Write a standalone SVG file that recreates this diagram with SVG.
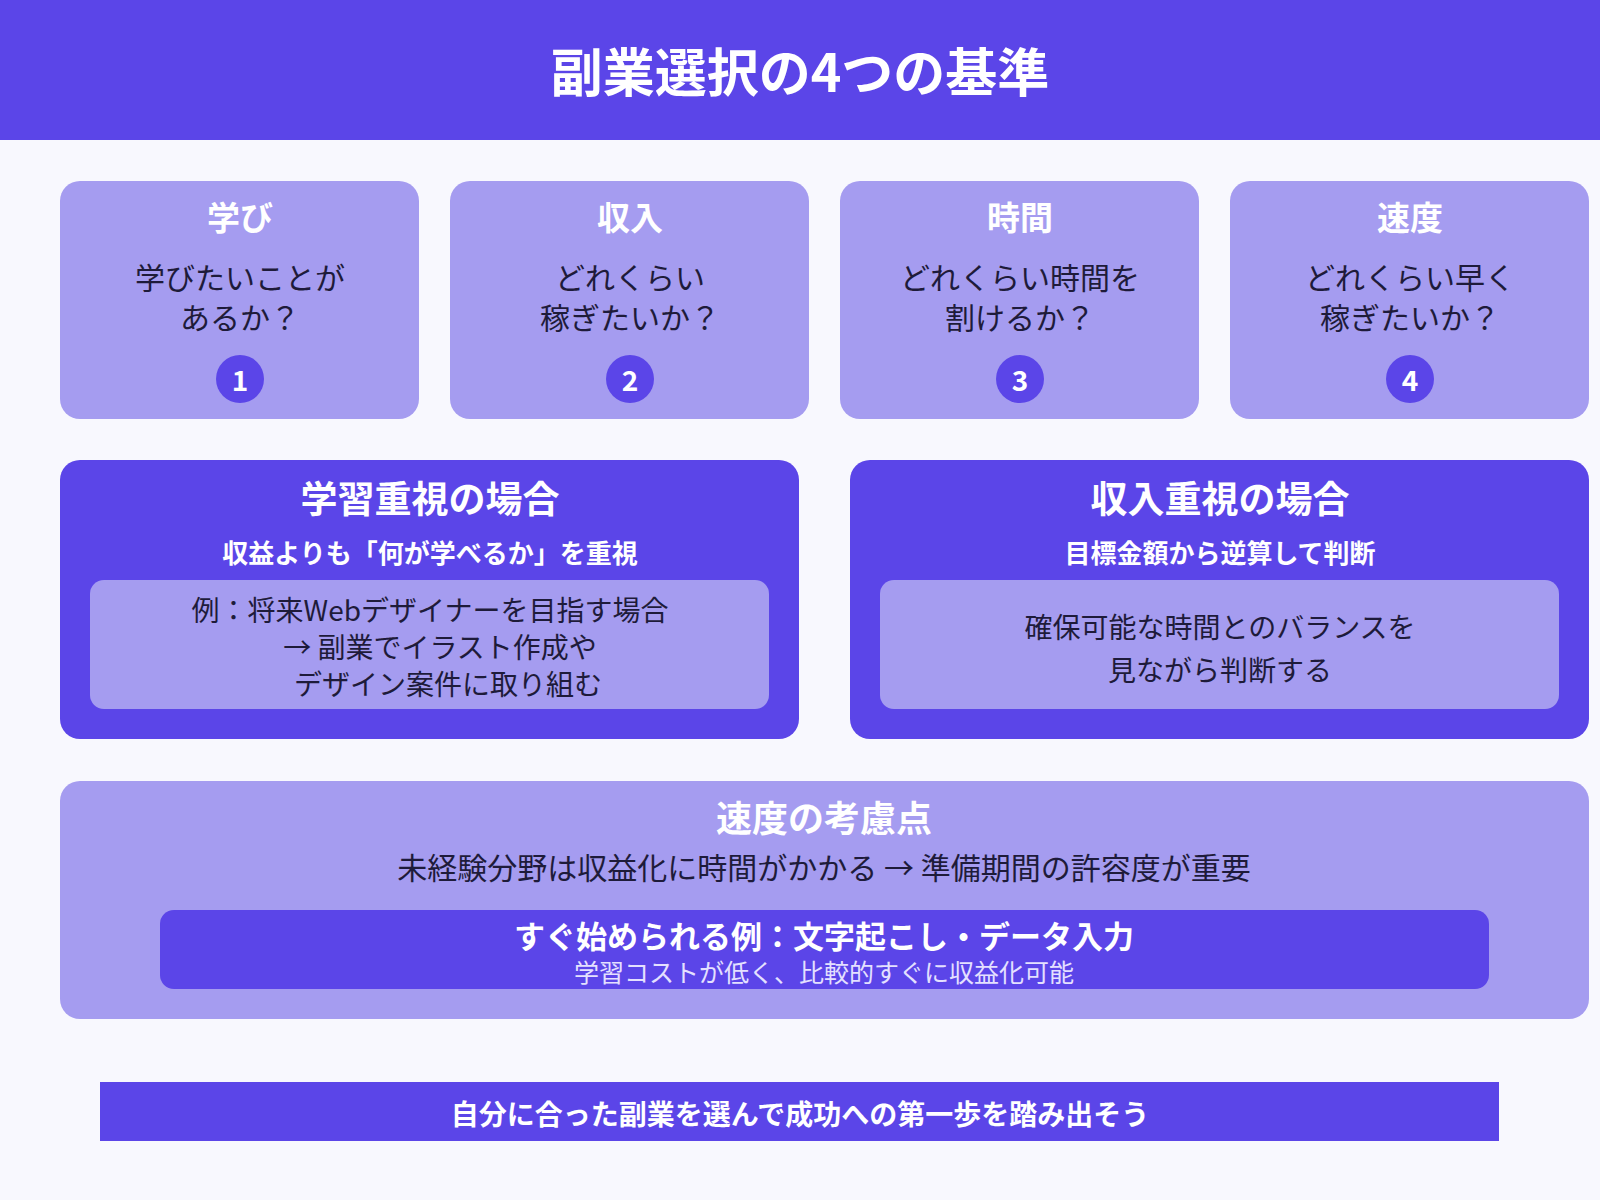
<svg xmlns="http://www.w3.org/2000/svg" width="1600" height="1200" viewBox="0 0 1600 1200">
<style>
text{font-family:"Noto Sans CJK JP","Noto Sans",sans-serif;text-anchor:middle;dominant-baseline:central}
.p{fill:#5b45e8}.l{fill:#a59cf0}
.w{fill:#fff}.d{fill:#1e1b3a}
.b{font-weight:700}
.c{font-size:30px}
</style>
<rect width="1600" height="1200" fill="#f8f8fe"/>
<g id="header"><rect class="p" x="0" y="0" width="1600" height="140"/>
<text class="w b" x="800" y="69" font-size="52">副業選択の4つの基準</text></g>
<g id="card1"><rect class="l" x="60" y="181" width="359" height="238" rx="20"/>
<text class="w b" x="240" y="216" font-size="33">学び</text>
<text class="d c" x="240" y="276">学びたいことが</text><text class="d c" x="240" y="316">あるか？</text>
<circle class="p" cx="240" cy="379" r="24"/><text class="w b" x="240" y="379" font-size="28">1</text></g>
<g id="card2"><rect class="l" x="450" y="181" width="359" height="238" rx="20"/>
<text class="w b" x="630" y="216" font-size="33">収入</text>
<text class="d c" x="630" y="276">どれくらい</text><text class="d c" x="630" y="316">稼ぎたいか？</text>
<circle class="p" cx="630" cy="379" r="24"/><text class="w b" x="630" y="379" font-size="28">2</text></g>
<g id="card3"><rect class="l" x="840" y="181" width="359" height="238" rx="20"/>
<text class="w b" x="1020" y="216" font-size="33">時間</text>
<text class="d c" x="1020" y="276">どれくらい時間を</text><text class="d c" x="1020" y="316">割けるか？</text>
<circle class="p" cx="1020" cy="379" r="24"/><text class="w b" x="1020" y="379" font-size="28">3</text></g>
<g id="card4"><rect class="l" x="1230" y="181" width="359" height="238" rx="20"/>
<text class="w b" x="1410" y="216" font-size="33">速度</text>
<text class="d c" x="1410" y="276">どれくらい早く</text><text class="d c" x="1410" y="316">稼ぎたいか？</text>
<circle class="p" cx="1410" cy="379" r="24"/><text class="w b" x="1410" y="379" font-size="28">4</text></g>
<g id="learning"><rect class="p" x="60" y="460" width="739" height="279" rx="20"/>
<text class="w b" x="430" y="497" font-size="37">学習重視の場合</text>
<text class="w b" x="430" y="551" font-size="26">収益よりも「何が学べるか」を重視</text>
<rect class="l" x="90" y="580" width="679" height="129" rx="14"/>
<text class="d" x="430" y="609" font-size="28">例：将来Webデザイナーを目指す場合</text>
<text class="d" x="440" y="646" font-size="28">→ 副業でイラスト作成や</text>
<text class="d" x="448" y="683" font-size="28">デザイン案件に取り組む</text></g>
<g id="income"><rect class="p" x="850" y="460" width="739" height="279" rx="20"/>
<text class="w b" x="1220" y="497" font-size="37">収入重視の場合</text>
<text class="w b" x="1220" y="551" font-size="26">目標金額から逆算して判断</text>
<rect class="l" x="880" y="580" width="679" height="129" rx="14"/>
<text class="d" x="1220" y="626" font-size="28">確保可能な時間とのバランスを</text>
<text class="d" x="1220" y="669" font-size="28">見ながら判断する</text></g>
<g id="speed"><rect class="l" x="60" y="781" width="1529" height="238" rx="20"/>
<text class="w b" x="824" y="816" font-size="36">速度の考慮点</text>
<text class="d" x="824" y="866" font-size="30">未経験分野は収益化に時間がかかる → 準備期間の許容度が重要</text>
<rect class="p" x="160" y="910" width="1329" height="79" rx="14"/>
<text class="w b" x="824" y="934" font-size="31">すぐ始められる例：文字起こし・データ入力</text>
<text x="824" y="971" font-size="25" fill="#e4e0ff">学習コストが低く、比較的すぐに収益化可能</text></g>
<g id="footer"><rect class="p" x="100" y="1082" width="1399" height="59"/>
<text class="w b" x="800" y="1113" font-size="28">自分に合った副業を選んで成功への第一歩を踏み出そう</text></g>
<g id="connectors"/>
</svg>
